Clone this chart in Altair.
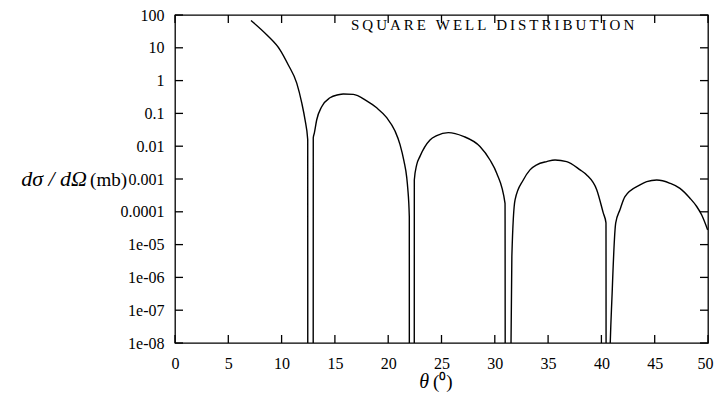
import altair as alt
import pandas as pd

# ---- data ----
theta = [7.13, 8.60, 9.85, 10.63, 11.42, 11.89, 12.20, 12.45,
         12.47, 12.95,
         12.97, 13.07, 13.29, 13.76, 14.54, 15.32, 15.79, 16.73, 17.98, 18.92,
         19.86, 20.64, 21.11, 21.48, 21.74, 21.83, 21.98,
         22.0, 22.43,
         22.45, 22.67, 22.98, 23.92, 24.55, 25.64, 27.05, 28.61, 29.55, 30.18, 30.96,
         31.02, 31.3,
         31.6, 31.9, 32.67, 33.3, 33.93, 34.87, 35.65, 36.74, 38.0, 38.6, 39.56, 40.18, 40.43,
         40.47, 40.7,
         41.02, 41.34, 41.74, 42.21, 43.62, 44.25, 45.19, 46.44, 47.37, 48.31, 48.94, 49.4, 49.97]
sigma = [68, 25, 8.7, 3.0, 0.84, 0.21, 0.063, 0.016,
         1e-30, 1e-30,
         0.018, 0.025, 0.063, 0.16, 0.30, 0.37, 0.39, 0.38, 0.24, 0.148,
         0.074, 0.029, 0.0112, 0.0035, 0.0011, 5.4e-4, 7.1e-5,
         1e-30, 1e-30,
         9.3e-4, 0.0027, 0.0049, 0.0155, 0.021, 0.026, 0.020, 0.0098, 0.0038, 0.0015, 1.8e-4,
         1e-30, 1e-16,
         4.3e-6, 2.3e-4, 9.3e-4, 0.0019, 0.0027, 0.0034, 0.0038, 0.0034, 0.0019, 0.00135, 4.7e-4, 9.1e-5, 4.6e-5,
         1e-30, 1e-10,
         4.2e-7, 4.5e-5, 1.15e-4, 2.9e-4, 6.6e-4, 8.3e-4, 9.3e-4, 7.4e-4, 5.2e-4, 2.6e-4, 1.45e-4, 8.1e-5, 2.8e-5]

x_ticks = [0, 5, 10, 15, 20, 25, 30, 35, 40, 45, 50]
y_ticks = [1e-8, 1e-7, 1e-6, 1e-5, 1e-4, 1e-3, 1e-2, 1e-1, 1, 10, 100]
y_tick_labels = ["1e-08", "1e-07", "1e-06", "1e-05", "0.0001", "0.001",
                 "0.01", "0.1", "1", "10", "100"]

key_title = "SQUARE WELL DISTRIBUTION"
y_title_math = "dσ / dΩ"
y_title_unit = "(mb)"
x_title_math = "θ"
x_title_unit = "(⁰)"

W, H = 533, 328
FONT = "Liberation Serif"

curve = pd.DataFrame({"theta": theta, "sigma": sigma})
xt = pd.DataFrame({"theta": x_ticks})
yt = pd.DataFrame({"sigma": y_ticks})

label_expr = "[" + ",".join(f"'{s}'" for s in y_tick_labels) + "][round(log(datum.value)/LN10)+8]"

xs = alt.Scale(domain=[0, 50], nice=False, zero=False)
ys = alt.Scale(type="log", domain=[1e-8, 100], nice=False)

# the last x label is nudged a little so it stays inside the page
last_label_offset = {"condition": {"test": f"datum.value == {x_ticks[-1]}", "value": -3}, "value": 0}

x_axis = alt.Axis(values=x_ticks, format="d", ticks=False, domain=False, grid=False,
                  labelFont=FONT, labelFontSize=16, labelPadding=12, labelColor="black",
                  labelFlush=False, labelOverlap=False, labelOffset=last_label_offset,
                  title=None)
y_axis = alt.Axis(values=y_ticks, labelExpr=label_expr, ticks=False, domain=False, grid=False,
                  labelFont=FONT, labelFontSize=16, labelPadding=11, labelColor="black",
                  labelFlush=False, labelOverlap=False, title=None)

line = alt.Chart(curve).mark_line(color="black", strokeWidth=1.4, clip=True,
                                  interpolate="monotone").encode(
    x=alt.X("theta:Q", scale=xs, axis=x_axis),
    y=alt.Y("sigma:Q", scale=ys, axis=y_axis),
)

TL = 8
tick_style = dict(color="black", strokeWidth=1.3)
bottom_ticks = alt.Chart(xt).mark_rule(**tick_style).encode(
    x=alt.X("theta:Q", scale=xs, axis=x_axis), y=alt.value(H), y2=alt.value(H - TL))
top_ticks = alt.Chart(xt).mark_rule(**tick_style).encode(
    x=alt.X("theta:Q", scale=xs, axis=x_axis), y=alt.value(0), y2=alt.value(TL))
left_ticks = alt.Chart(yt).mark_rule(**tick_style).encode(
    y=alt.Y("sigma:Q", scale=ys, axis=y_axis), x=alt.value(0), x2=alt.value(TL))
right_ticks = alt.Chart(yt).mark_rule(**tick_style).encode(
    y=alt.Y("sigma:Q", scale=ys, axis=y_axis), x=alt.value(W), x2=alt.value(W - TL))

def label(text, x, y, size, align="left", style="normal", baseline="alphabetic"):
    return alt.Chart(pd.DataFrame({"t": [text]})).mark_text(
        font=FONT, fontSize=size, fontStyle=style, align=align, baseline=baseline,
        color="black").encode(text="t:N", x=alt.value(x), y=alt.value(y))

spaced_key = "\u2009".join(list(key_title))
key = label(spaced_key, 176, 14.5, 15)
ytitle1 = label(y_title_math, -88, 171, 22, align="right", style="italic")
ytitle2 = label(y_title_unit, -48, 171, 19, align="right")
xtitle1 = label(x_title_math, 254, 373, 20, align="right", style="italic")
xtitle2 = label(x_title_unit, 258, 373, 19, align="left")

chart = alt.layer(
    line, bottom_ticks, top_ticks, left_ticks, right_ticks,
    key, ytitle1, ytitle2, xtitle1, xtitle2,
).properties(
    width=W, height=H,
    padding={"left": 167, "top": 7, "right": 6, "bottom": 52},
    autosize=alt.AutoSizeParams(type="none"),
).configure_view(stroke="black", strokeWidth=1.3)

chart.save("out.html", embed_options={"renderer": "svg", "actions": False})
